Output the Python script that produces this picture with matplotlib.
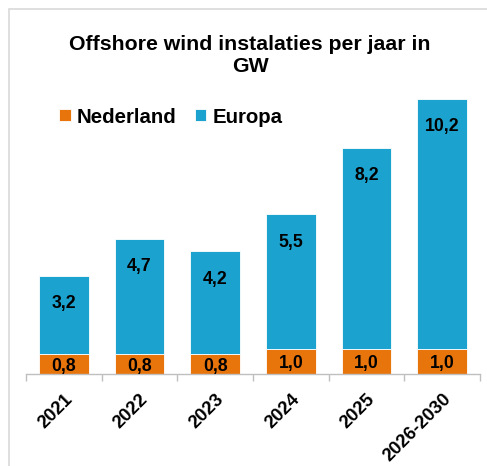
import matplotlib
matplotlib.use('Agg')
import matplotlib.pyplot as plt
from matplotlib.patches import Rectangle
import numpy as np

plt.rcParams['font.family'] = ['Liberation Sans', 'DejaVu Sans']

# Data
years = ['2021', '2022', '2023', '2024', '2025', '2026-2030']
nederland = [0.8, 0.8, 0.8, 1.0, 1.0, 1.0]
europa = [3.2, 4.7, 4.2, 5.5, 8.2, 10.2]

orange = '#E8740C'
blue = '#1CA2CE'
grey = '#D9D9D9'

fig = plt.figure(figsize=(4.87, 4.66), dpi=100)

# chart border (only left/top visible in the crop)
fig.patches.append(Rectangle((9 / 487, -0.1), 1.2, 1 - 9 / 466 + 0.1,
                             transform=fig.transFigure, fill=False,
                             edgecolor=grey, linewidth=1.2))

ax = fig.add_axes([26 / 487, 1 - 374 / 466, 454 / 487, 284 / 466])
x = np.arange(len(years))
b1 = ax.bar(x, nederland, width=0.66, color=orange, edgecolor='white',
            linewidth=0.6, label='Nederland')
b2 = ax.bar(x, europa, width=0.66, bottom=nederland, color=blue,
            edgecolor='white', linewidth=0.6, label='Europa')

for i in range(len(years)):
    ax.annotate(f'{nederland[i]:.1f}'.replace('.', ','),
                (x[i], nederland[i] / 2), xytext=(0, -1.5),
                textcoords='offset points', ha='center', va='center',
                fontsize=12.7, fontweight='bold')
    ax.annotate(f'{europa[i]:.1f}'.replace('.', ','),
                (x[i], nederland[i] + europa[i]), xytext=(0, -14),
                textcoords='offset points', ha='center', va='top',
                fontsize=12.7, fontweight='bold')

ax.set_xlim(-0.5, len(years) - 0.5)
ax.set_ylim(0, 11.55)
ax.set_xticks(x)
ax.set_xticklabels(years, rotation=45, ha='right', rotation_mode='anchor',
                   fontsize=13.3, fontweight='bold')
ax.tick_params(axis='x', which='major', length=0, pad=12)
ax.set_xticks(np.arange(-0.5, len(years)), minor=True)
ax.tick_params(axis='x', which='minor', length=5, color='#BFBFBF', width=1)
ax.set_yticks([])
for s in ['left', 'right', 'top']:
    ax.spines[s].set_visible(False)
ax.spines['bottom'].set_color('#BFBFBF')
ax.spines['bottom'].set_linewidth(1)

fig.text(250 / 487, 1 - 56 / 466, 'Offshore wind instalaties per jaar in\nGW',
         ha='center', va='center', fontsize=15.3, fontweight='bold',
         linespacing=1.2)

fig.legend(handles=[b1, b2], loc='center left',
           bbox_to_anchor=(41 / 487, 1 - 117 / 466), ncol=2, frameon=False,
           prop={'size': 14.7, 'weight': 'bold'}, handlelength=0.55,
           handleheight=0.55, handletextpad=0.3, columnspacing=0.9)

fig.savefig('out.png', dpi=100)
